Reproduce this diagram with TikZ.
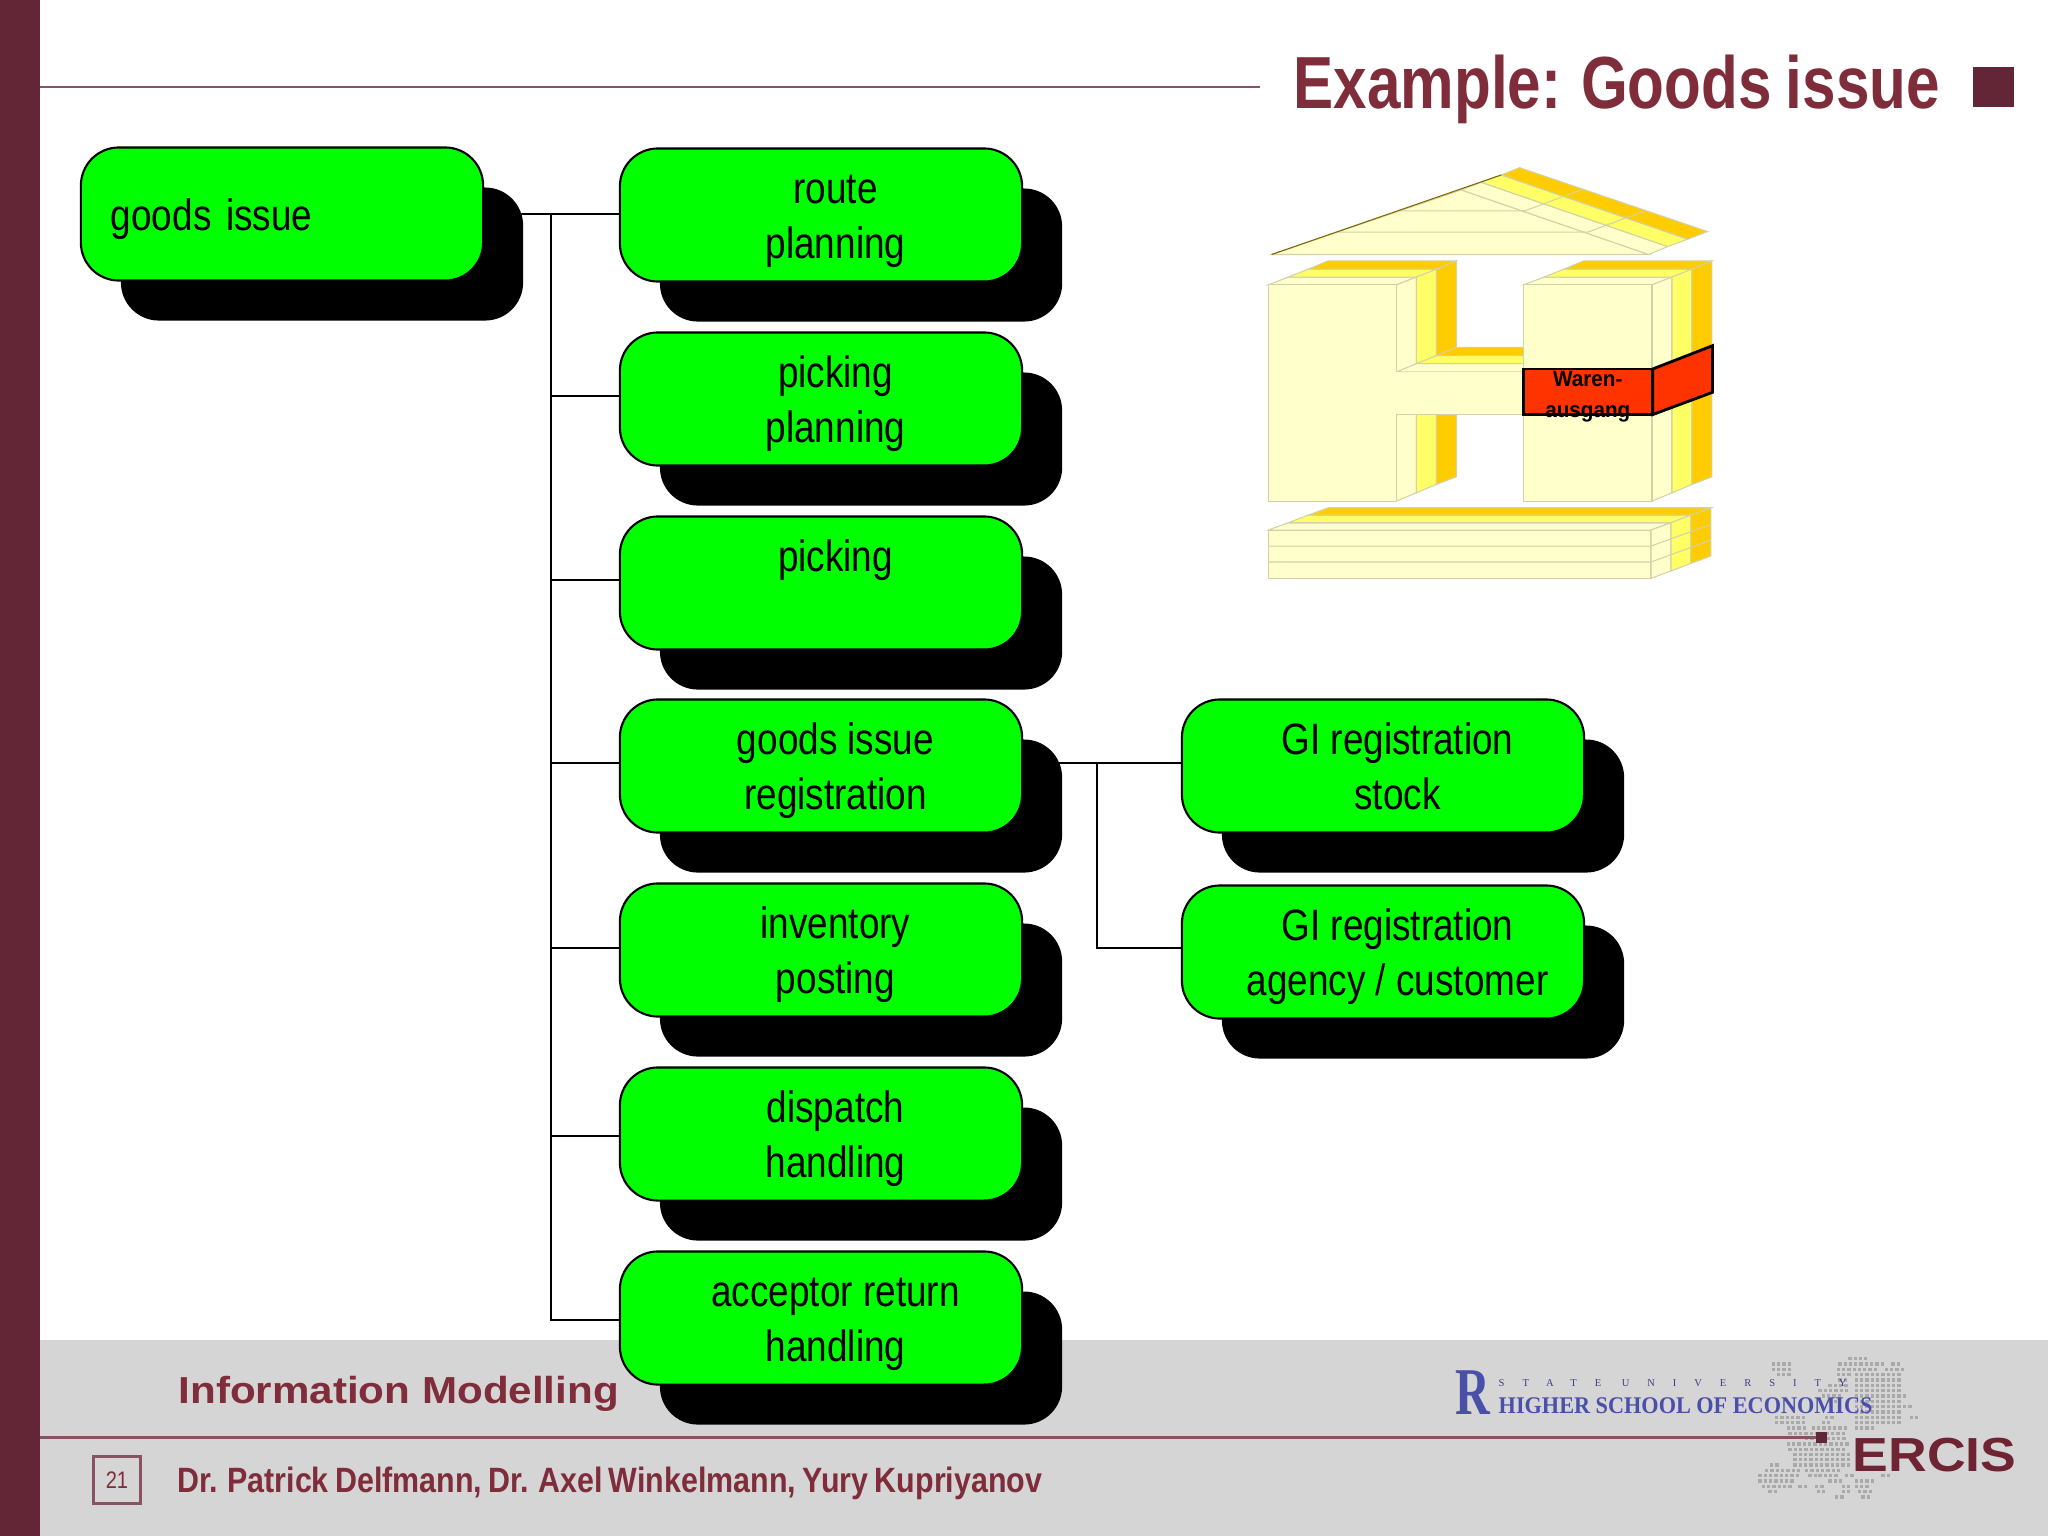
\documentclass[tikz,border=0pt]{standalone}
\usepackage{fontspec}
\usetikzlibrary{shadows}
\usetikzlibrary{backgrounds}
\setmainfont[FakeStretch=0.84]{Liberation Sans}
\newfontfamily\titlefont[FakeStretch=0.815,WordSpace=0.85]{Liberation Sans}
\newfontfamily\authorfont[FakeStretch=0.865,WordSpace=0.75]{Liberation Sans}
\newfontfamily\widefont[FakeStretch=1.12]{Liberation Sans}
\newfontfamily\redfont[FakeStretch=0.94]{Liberation Sans}
\newfontfamily\hsefont[FakeStretch=0.93]{Liberation Serif}
\newfontfamily\hselogo[FakeStretch=0.72]{Liberation Serif}
\newfontfamily\hsespaced[LetterSpace=170]{Liberation Serif}
\definecolor{barred}{HTML}{632636}
\definecolor{ercisred}{HTML}{6E2433}
\definecolor{titlered}{HTML}{7F2D3A}
\definecolor{rulered}{HTML}{855460}
\definecolor{footgray}{HTML}{D6D5D6}
\definecolor{hseblue}{HTML}{4A4FA8}
\definecolor{mapgray}{HTML}{A9A9A9}
\definecolor{palefill}{HTML}{FFFFCC}
\definecolor{midfill}{HTML}{FFFF66}
\definecolor{deepfill}{HTML}{FFCC00}
\definecolor{houseline}{HTML}{D2D2A6}
\definecolor{redfill}{HTML}{FF3300}
\tikzset{
 goodsbox/.style={draw=black,line width=0.6pt,fill=green,rounded corners=0.38cm,
  minimum width=4.02cm,minimum height=1.33cm,inner sep=0pt,align=center,
  font=\fontsize{12.5}{15.6}\selectfont,
  drop shadow={shadow xshift=0.4cm,shadow yshift=-0.4cm,fill=black,opacity=1}},
 rootbox/.style={goodsbox,align=left,text width=3.42cm,inner xsep=0.3cm},
 tree/.style={draw=black,line width=0.6pt},
 pale/.style={fill=palefill,draw=houseline,line width=0.3pt},
 mid/.style={fill=midfill,draw=houseline,line width=0.3pt},
 deep/.style={fill=deepfill,draw=houseline,line width=0.3pt},
 redface/.style={fill=redfill,draw=black,line width=0.8pt},
 foot/.style={inner sep=0pt,anchor=base west}
}
\newcommand{\boxstrut}{\rule[-0.10cm]{0pt}{0.52cm}}
\newcommand{\sft}{\hspace*{0.29cm}\boxstrut}
\begin{document}
\begin{tikzpicture}[x=0.01cm,y=-0.01cm]
 \useasboundingbox (0,0) rectangle (2048,1536);
 \fill[footgray](40,1340) rectangle (2048,1536);
 \fill[barred](0,0) rectangle (40,1536);
 \draw[rulered,line width=0.7pt](40,87)--(1260,87);
 \fill[barred](1973,67) rectangle (2014,107);
 \node[foot,text=titlered,font=\titlefont\fontsize{21}{25}\selectfont\bfseries] (title) at (1293,108) {Example: Goods issue};

 % europe dots
 \begin{scope}[shift={(1740,1340)},x=0.00333cm,y=-0.00333cm]
  \foreach \yy/\xa/\xb in {56/330/380,72/300/430,72/460/490,72/100/160,88/295/420,88/440/490,88/100/160,
   104/295/340,104/350/480,104/115/150,120/300/330,120/350/490,136/270/330,136/350/490,152/240/320,152/350/480,
   168/250/300,168/350/500,184/270/290,184/350/490,200/350/480,200/495/525,216/350/490,232/110/190,232/260/280,
   232/350/490,232/515/525,248/110/190,248/250/280,248/350/490,264/145/195,264/220/330,264/350/410,280/150/325,
   296/200/325,312/145/325,328/150/325,344/165/325,360/165/325,376/95/110,376/165/330,392/80/190,392/200/310,
   408/60/180,408/210/230,408/240/290,408/320/340,408/430/460,424/60/170,424/270/310,424/350/400,440/70/150,
   440/180/190,440/230/250,440/310/330,440/350/390,456/90/110,456/235/245,456/310/320,456/360/400,472/290/320,
   472/370/395}{
   \pgfmathsetmacro{\xc}{\xa+16}
   \foreach \xx in {\xa,\xc,...,\xb}
    \fill[mapgray](\xx-5,\yy-5) rectangle (\xx+5,\yy+5);
  }
 \end{scope}

 \draw[rulered,line width=0.85pt](40,1437)--(1821,1437);
 \fill[barred](1816,1432) rectangle (1827,1443);
 \node[foot,text=hseblue,font=\hselogo\fontsize{19}{19}\selectfont\bfseries] (hsemark) at (1455,1414) {R};
 \node[foot,text=hseblue!80!black,font=\hsespaced\fontsize{3}{3}\selectfont] (hsestate) at (1498,1386) {STATE  UNIVERSITY};
 \node[foot,text=hseblue,font=\hsefont\fontsize{6.8}{7}\selectfont\bfseries] (hsename) at (1498,1413) {HIGHER SCHOOL OF ECONOMICS};
 \node[foot,text=ercisred,font=\widefont\fontsize{13.6}{15}\selectfont\bfseries] (ercis) at (1852,1471) {ERCIS};
 \node[foot,text=titlered,font=\widefont\fontsize{10.7}{12}\selectfont\bfseries] (course) at (178,1403) {Information Modelling};
 \node[foot,text=titlered,font=\authorfont\fontsize{10}{12}\selectfont\bfseries] (authors) at (177,1492) {Dr. Patrick Delfmann, Dr. Axel Winkelmann, Yury Kupriyanov};
 \node[draw=rulered,line width=0.6pt,minimum width=0.47cm,minimum height=0.47cm,inner sep=0pt,text=titlered,font=\fontsize{6.8}{7}\selectfont] (pagebox) at (117,1480) {21};

 % house
 \begin{scope}[shift={(1240,150)},x=0.00333cm,y=-0.00333cm]
  \draw[pale](95,314)--(665,120)--(1228,314)--cycle;
  \draw[pale](665,120)--(725,97)--(1285,290)--(1228,314)--cycle;
  \draw[mid](725,97)--(785,75)--(1345,268)--(1285,290)--cycle;
  \draw[deep](785,75)--(840,53)--(1405,245)--(1345,268)--cycle;
  \draw[houseline,line width=0.3pt](290,247)--(1045,247)--(1215,183);
  \draw[houseline,line width=0.3pt](480,183)--(855,183)--(1030,118);
  \draw[black!50!deepfill,line width=0.3pt](95,314)--(785,75);

  \foreach \ox in {0,768}{
   \draw[pale](85+\ox,405)--(145+\ox,382)--(530+\ox,382)--(470+\ox,405)--cycle;
   \draw[mid](145+\ox,382)--(205+\ox,358)--(590+\ox,358)--(530+\ox,382)--cycle;
   \draw[deep](205+\ox,358)--(265+\ox,333)--(650+\ox,333)--(590+\ox,358)--cycle;
   \draw[pale](470+\ox,405)--(530+\ox,382)--(530+\ox,1030)--(470+\ox,1055)--cycle;
   \draw[mid](530+\ox,382)--(590+\ox,358)--(590+\ox,1005)--(530+\ox,1030)--cycle;
   \draw[deep](590+\ox,358)--(650+\ox,333)--(650+\ox,982)--(590+\ox,1005)--cycle;
  }
  \draw[deep](590,618)--(650,593)--(853,593)--(853,618)--cycle;
  \draw[mid](530,642)--(590,618)--(853,618)--(853,642)--cycle;
  \draw[pale](470,667)--(530,642)--(853,642)--(853,667)--cycle;
  \draw[pale](85,405)--(470,405)--(470,1055)--(85,1055)--cycle;
  \draw[pale](853,405)--(1238,405)--(1238,1055)--(853,1055)--cycle;
  \fill[palefill](470,667) rectangle (853,796);
  \draw[houseline,line width=0.3pt](470,796)--(853,796);

  \draw[pale](85,1142)--(145,1120)--(1295,1120)--(1235,1142)--cycle;
  \draw[mid](145,1120)--(205,1097)--(1355,1097)--(1295,1120)--cycle;
  \draw[deep](205,1097)--(265,1075)--(1415,1075)--(1355,1097)--cycle;
  \draw[pale](85,1142)--(1235,1142)--(1235,1287)--(85,1287)--cycle;
  \draw[pale](1235,1142)--(1295,1120)--(1295,1265)--(1235,1287)--cycle;
  \draw[mid](1295,1120)--(1355,1097)--(1355,1242)--(1295,1265)--cycle;
  \draw[deep](1355,1097)--(1415,1075)--(1415,1220)--(1355,1242)--cycle;
  \draw[houseline,line width=0.3pt](85,1190)--(1235,1190)--(1415,1125);
  \draw[houseline,line width=0.3pt](85,1238)--(1235,1238)--(1415,1172);

  \draw[redface](852,658)--(1240,658)--(1240,795)--(852,795)--cycle;
  \draw[redface](1240,658)--(1420,588)--(1420,728)--(1240,795)--cycle;
  \node[inner sep=0pt,align=center,font=\redfont\fontsize{6.25}{8.8}\selectfont\bfseries] (waren) at (1045,742) {Waren-\\ausgang};
 \end{scope}

 % boxes
 \node[rootbox] (issue) at (282,214) {\boxstrut goods issue};
 \node[goodsbox] (route) at (821,215) {\sft route\\\sft planning};
 \node[goodsbox] (plan) at (821,399) {\sft picking\\\sft planning};
 \node[goodsbox] (picking) at (821,583) {\sft picking\\\sft};
 \node[goodsbox] (regist) at (821,766) {\sft goods issue\\\sft registration};
 \node[goodsbox] (inventory) at (821,950) {\sft inventory\\\sft posting};
 \node[goodsbox] (dispatch) at (821,1134) {\sft dispatch\\\sft handling};
 \node[goodsbox] (acceptor) at (821,1318) {\sft acceptor return\\\sft handling};
 \node[goodsbox] (stock) at (1383,766) {\sft GI registration\\\sft stock};
 \node[goodsbox] (agency) at (1383,952) {\sft GI registration\\\sft agency / customer};

 \begin{scope}[on background layer]
  \coordinate (trunk) at (551,214);
  \coordinate (trunkb) at (1097,763);
  \draw[tree](issue.east)--(issue.east-|route.west);
  \draw[tree](trunk)|-([yshift=0.03cm]plan.west);
  \draw[tree](trunk)|-([yshift=0.03cm]picking.west);
  \draw[tree](trunk)|-([yshift=0.03cm]regist.west);
  \draw[tree](trunk)|-([yshift=0.02cm]inventory.west);
  \draw[tree](trunk)|-([yshift=-0.02cm]dispatch.west);
  \draw[tree](trunk)|-([yshift=-0.02cm]acceptor.west);
  \draw[tree]([yshift=0.03cm]regist.east)--([yshift=0.03cm]stock.west);
  \draw[tree](trunkb)|-([yshift=0.04cm]agency.west);
 \end{scope}
\end{tikzpicture}
\end{document}
